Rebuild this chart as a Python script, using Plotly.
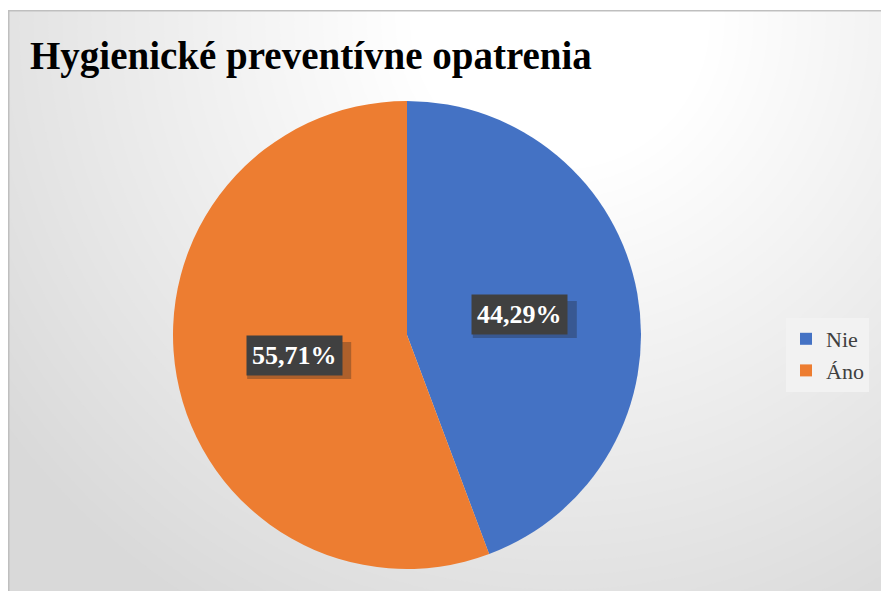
import math
import plotly.graph_objects as go

# ---- data ----
categories = ["Nie", "Áno"]
values = [44.29, 55.71]
colors = ["#4472C4", "#ED7D31"]
title_text = "Hygienické preventívne opatrenia"

W, H = 889, 591
OFF = 8  # page body margin
# pie geometry in screen pixels (layout)
CX, CY, R = 407, 335, 234

def px_x(x):
    return (x - OFF) / W

def px_y(y):
    return 1 - (y - OFF) / H

fig = go.Figure()
fig.add_trace(go.Pie(
    labels=categories,
    values=values,
    marker=dict(colors=colors, line=dict(width=0)),
    sort=False,
    direction="clockwise",
    rotation=0,
    textinfo="none",
    hoverinfo="label+percent",
    domain=dict(x=[px_x(CX - R), px_x(CX + R)], y=[px_y(CY + R), px_y(CY - R)]),
))

shapes = []
# radial gradient background (concentric circles)
GX, GY = 560, 20
r0, r1 = 150, 700
lo, hi = 217, 255
steps = hi - lo
for i in range(steps, -1, -1):
    rr = r0 + (r1 - r0) * i / steps
    if i == steps:
        rr = 1400
    c = int(round(hi - i))
    col = f"rgb({c},{c},{c})"
    shapes.append(dict(type="circle", xref="paper", yref="paper",
                       x0=px_x(GX - rr), x1=px_x(GX + rr),
                       y0=px_y(GY + rr), y1=px_y(GY - rr),
                       fillcolor=col, line=dict(width=0), layer="below"))
# white strip above chart border
shapes.append(dict(type="rect", xref="paper", yref="paper", x0=0, x1=1, y0=px_y(10), y1=1,
                   fillcolor="white", line=dict(width=0), layer="below"))
# border
shapes.append(dict(type="rect", xref="paper", yref="paper", x0=px_x(8.75), x1=px_x(900),
                   y0=px_y(610), y1=px_y(10.75),
                   fillcolor="rgba(0,0,0,0)", line=dict(width=1.5, color="#bfbfbf"), layer="below"))

annotations = []
# data labels
total = sum(values)
cum = 0
label_r = 0.49 * R
BW, BH = 52, 18.5  # half box size (label shadow)
for cat, v in zip(categories, values):
    mid = (cum + v / 2) / total * 2 * math.pi
    cum += v
    lx = CX + label_r * math.sin(mid)
    ly = CY - label_r * math.cos(mid)
    txt = f"{v / total * 100:.2f}%".replace(".", ",")
    # soft shadow under label box
    shapes.append(dict(type="rect", xref="paper", yref="paper",
                       x0=px_x(lx - BW + 5), x1=px_x(lx + BW + 5),
                       y0=px_y(ly + BH + 5), y1=px_y(ly - BH + 5),
                       fillcolor="rgba(30,30,30,0.3)", line=dict(width=0), layer="above"))
    annotations.append(dict(x=px_x(lx), y=px_y(ly), xref="paper", yref="paper",
                            xanchor="center", yanchor="middle",
                            text=f"<b>{txt}</b>", showarrow=False,
                            font=dict(family="Liberation Serif", size=26, color="white"),
                            bgcolor="#404040", borderpad=5))

# title
annotations.append(dict(x=px_x(28), y=px_y(56), xref="paper", yref="paper",
                        xanchor="left", yanchor="middle",
                        text=f"<b>{title_text}</b>", showarrow=False,
                        font=dict(family="Liberation Serif", size=39, color="black")))

fig.update_layout(
    width=W, height=H,
    margin=dict(l=0, r=0, t=0, b=0),
    paper_bgcolor="white",
    shapes=shapes,
    annotations=annotations,
    showlegend=True,
    legend=dict(x=px_x(786), y=px_y(318), xanchor="left", yanchor="top",
                bgcolor="#f2f2f2",
                font=dict(family="Liberation Serif", size=22, color="#404040"),
                itemwidth=30, tracegroupgap=0),
)

fig.write_html("out.html")
